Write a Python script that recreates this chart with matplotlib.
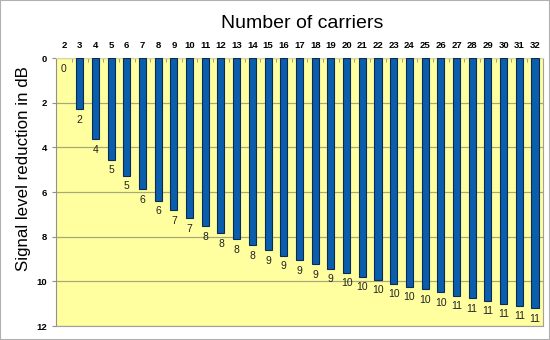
import matplotlib.pyplot as plt
from matplotlib.patches import Rectangle

plt.rcParams['font.family'] = ['Liberation Sans', 'DejaVu Sans']

carriers = list(range(2, 33))
reduction = [0.0, 2.30, 3.63, 4.54, 5.27, 5.88, 6.39, 6.81, 7.18, 7.52,
             7.84, 8.12, 8.39, 8.61, 8.85, 9.06, 9.24, 9.43, 9.61, 9.79,
             9.93, 10.10, 10.24, 10.36, 10.49, 10.64, 10.75, 10.87, 11.00,
             11.09, 11.21]
y_ticks = [0, 2, 4, 6, 8, 10, 12]

fig = plt.figure(figsize=(5.5, 3.4), dpi=100)
ax = fig.add_axes([0.102, 0.041, 0.885, 0.788])
fig.patches.append(Rectangle((0, 0), 1, 1, transform=fig.transFigure,
                             fill=False, edgecolor='#b0b0b0', lw=1.5))

ax.set_facecolor('#ffff9f')
# zero-height bars are not drawn (no outline either)
edges = ['#0b2a55' if v > 0 else 'none' for v in reduction]
ax.bar(carriers, reduction, width=0.45, color='#0a5eac',
       edgecolor=edges, linewidth=0.8, zorder=3)
for c, v in zip(carriers, reduction):
    ax.text(c, v + 0.47, str(int(round(v))), ha='center', va='center',
            fontsize=7.5, color='#202020', zorder=4)

ax.set_xlim(1.5, 32.5)
ax.set_ylim(12, 0)
ax.set_yticks(y_ticks)
ax.yaxis.grid(True, color='#a8a878', lw=0.9, zorder=1)
ax.xaxis.tick_top()
ax.set_xticks(carriers)
ax.set_xticks([c + 0.5 for c in carriers[:-1]], minor=True)
ax.tick_params(axis='x', which='major', length=0, labelsize=6.8, pad=6)
ax.tick_params(axis='x', which='minor', length=3, color='#909090',
               direction='in')
ax.tick_params(axis='y', length=3, color='#909090', labelsize=6.8)
for lab in ax.get_xticklabels() + ax.get_yticklabels():
    lab.set_fontweight('bold')

for side in ['right', 'bottom']:
    ax.spines[side].set_color('#a0a0a0')
ax.spines['left'].set_color('#909090')
ax.spines['top'].set_color('#d8d8a0')

fig.text(0.043, 0.505, 'Signal level reduction in dB', rotation=90,
         ha='center', va='center', fontsize=12.2)
fig.text(0.55, 0.93, 'Number of carriers', ha='center', va='center',
         fontsize=14)

fig.savefig('out.png', dpi=100)
